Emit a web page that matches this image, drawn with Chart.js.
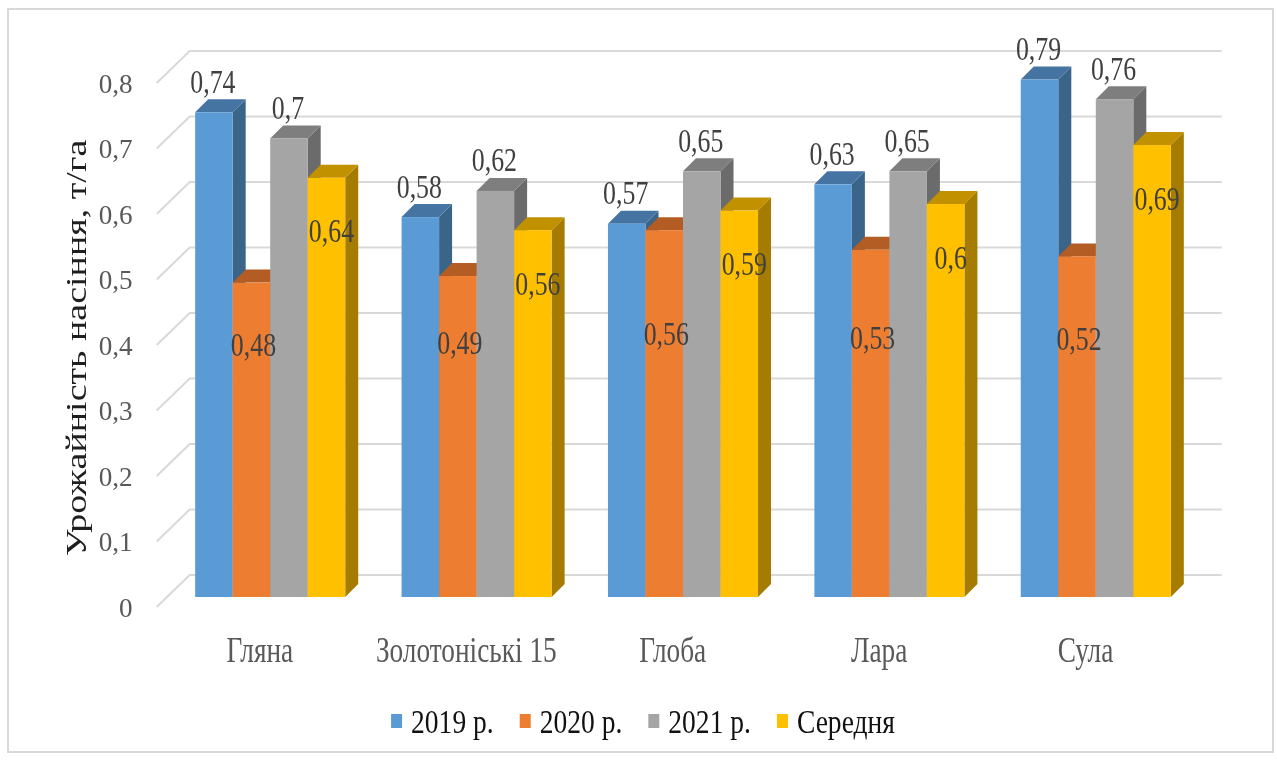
<!DOCTYPE html>
<html>
<head>
<meta charset="utf-8">
<script src="https://cdn.jsdelivr.net/npm/chart.js@4.4.1/dist/chart.umd.min.js"></script>
<style>
html,body{margin:0;padding:0;background:#fff;}
#wrap{width:1277px;height:760px;position:relative;}
</style>
</head>
<body>
<div id="wrap"><canvas id="c" width="1277" height="760"></canvas></div>
<script>
const categories = ['Гляна', 'Золотоніські 15', 'Глоба', 'Лара', 'Сула'];
const seriesNames = ['2019 р.', '2020 р.', '2021 р.', 'Середня'];
const values2019 = [0.74, 0.58, 0.57, 0.63, 0.79];
const values2020 = [0.48, 0.49, 0.56, 0.53, 0.52];
const values2021 = [0.70, 0.62, 0.65, 0.65, 0.76];
const valuesAvg = [0.64, 0.56, 0.59, 0.60, 0.69];
const yTickValues = [0, 0.1, 0.2, 0.3, 0.4, 0.5, 0.6, 0.7, 0.8];
const yTickLabels = ['0', '0,1', '0,2', '0,3', '0,4', '0,5', '0,6', '0,7', '0,8'];
const axisTitle = 'Урожайність насіння, т/га';

const frontColors = ['#5b9bd5', '#ed7d31', '#a5a5a5', '#ffc000'];
const topColors = ['#4574a3', '#b35d24', '#7e7e7e', '#c29100'];
const sideColors = ['#3b6489', '#9e5220', '#6b6b6b', '#a67c00'];

const DEPTH = 13;
const WALL_DX = 22.7, WALL_DY = 22;
const FLOOR_DX = 10.3, FLOOR_DY = 10;
const SERIF = '"Liberation Serif", "Times New Roman", serif';

function fmt(v) { return String(v).replace('.', ','); }

function drawText(ctx, text, x, y, size, color, align, sx) {
  ctx.save();
  ctx.font = size + 'px ' + SERIF;
  ctx.fillStyle = color;
  ctx.textAlign = align;
  ctx.textBaseline = 'alphabetic';
  ctx.translate(x, y);
  ctx.scale(sx, 1);
  ctx.fillText(text, 0, 0);
  ctx.restore();
}

const threeD = {
  id: 'threeD',
  beforeDraw(chart) {
    const ctx = chart.ctx;
    ctx.save();
    ctx.fillStyle = '#ffffff';
    ctx.fillRect(0, 0, chart.width, chart.height);
    ctx.strokeStyle = '#d9d9d9';
    ctx.lineWidth = 2;
    ctx.strokeRect(8, 9, 1265, 743);
    ctx.restore();
  },
  beforeDatasetsDraw(chart) {
    const ctx = chart.ctx;
    const xs = chart.scales.x, ys = chart.scales.y;
    const area = chart.chartArea;
    ctx.save();
    // walls gridlines
    ctx.strokeStyle = '#d9d9d9';
    ctx.lineWidth = 2;
    yTickValues.forEach((v, i) => {
      const yf = ys.getPixelForValue(v);
      ctx.beginPath();
      ctx.moveTo(area.left - FLOOR_DX, yf + FLOOR_DY);
      ctx.lineTo(area.left + WALL_DX, yf - WALL_DY);
      ctx.lineTo(area.right + WALL_DX, yf - WALL_DY);
      ctx.stroke();
      drawText(ctx, yTickLabels[i], area.left - FLOOR_DX - 24, yf + FLOOR_DY + 9.5, 28, '#595959', 'right', 0.97);
    });
    // axis title
    ctx.save();
    ctx.translate(78, 348);
    ctx.rotate(-Math.PI / 2);
    ctx.scale(1, 0.78);
    ctx.font = '38px ' + SERIF;
    ctx.fillStyle = '#1f1f1f';
    ctx.textAlign = 'center';
    ctx.textBaseline = 'middle';
    ctx.fillText(axisTitle, 0, 0);
    ctx.restore();
    // category labels
    categories.forEach((c, i) => {
      drawText(ctx, c, xs.getPixelForValue(i) - FLOOR_DX, 662, 35, '#595959', 'center', 0.78);
    });
    // bars
    chart.data.datasets.forEach((ds, di) => {
      const meta = chart.getDatasetMeta(di);
      meta.data.forEach((el) => {
        const p = el.getProps(['x', 'y', 'base', 'width'], true);
        const L = p.x - p.width / 2, R = p.x + p.width / 2, T = p.y, B = p.base;
        ctx.fillStyle = sideColors[di];
        ctx.beginPath();
        ctx.moveTo(R, T); ctx.lineTo(R + DEPTH, T - DEPTH);
        ctx.lineTo(R + DEPTH, B - DEPTH); ctx.lineTo(R, B); ctx.closePath(); ctx.fill();
        ctx.fillStyle = topColors[di];
        ctx.beginPath();
        ctx.moveTo(L, T); ctx.lineTo(L + DEPTH, T - DEPTH);
        ctx.lineTo(R + DEPTH, T - DEPTH); ctx.lineTo(R, T); ctx.closePath(); ctx.fill();
        ctx.fillStyle = frontColors[di];
        ctx.fillRect(L, T, R - L, B - T);
      });
    });
    // data labels
    chart.data.datasets.forEach((ds, di) => {
      const meta = chart.getDatasetMeta(di);
      meta.data.forEach((el, i) => {
        const p = el.getProps(['x', 'y', 'base'], true);
        const v = ds.data[i];
        const txt = fmt(v);
        let cx, cy;
        if (di === 0 || di === 2) { cx = p.x - 1; cy = p.y - 31; }
        else if (di === 1) { cx = p.x + 2; cy = ys.getPixelForValue(v * 0.2 + 0.29); }
        else { cx = p.x + 5; cy = p.y + 53; }
        drawText(ctx, txt, cx, cy + 11.5, 34, '#404040', 'center', 0.76);
      });
    });
    // legend
    ctx.font = '34px ' + SERIF;
    const sx = 0.81, box = 11, gapBox = 9, gapItem = 26;
    const widths = seriesNames.map(n => ctx.measureText(n).width * sx);
    const total = widths.reduce((a, w) => a + w + box + gapBox, 0) + gapItem * (seriesNames.length - 1);
    let x = 643 - total / 2;
    seriesNames.forEach((n, i) => {
      ctx.fillStyle = frontColors[i];
      ctx.fillRect(x, 714, box, 14);
      x += box + gapBox;
      drawText(ctx, n, x, 733, 34, '#111111', 'left', sx);
      x += widths[i] + gapItem;
    });
    ctx.restore();
    return false;
  }
};

new Chart(document.getElementById('c'), {
  type: 'bar',
  data: {
    labels: categories,
    datasets: [
      { label: seriesNames[0], data: values2019, backgroundColor: frontColors[0] },
      { label: seriesNames[1], data: values2020, backgroundColor: frontColors[1] },
      { label: seriesNames[2], data: values2021, backgroundColor: frontColors[2] },
      { label: seriesNames[3], data: valuesAvg, backgroundColor: frontColors[3] }
    ]
  },
  options: {
    responsive: false,
    animation: false,
    devicePixelRatio: 1,
    layout: { padding: { left: 167, right: 78, top: 73, bottom: 163 } },
    datasets: { bar: { categoryPercentage: 0.727, barPercentage: 1.0 } },
    scales: {
      x: { display: false },
      y: { display: false, min: 0, max: 0.8 }
    },
    plugins: { legend: { display: false }, tooltip: { enabled: false } }
  },
  plugins: [threeD]
});
</script>
</body>
</html>
